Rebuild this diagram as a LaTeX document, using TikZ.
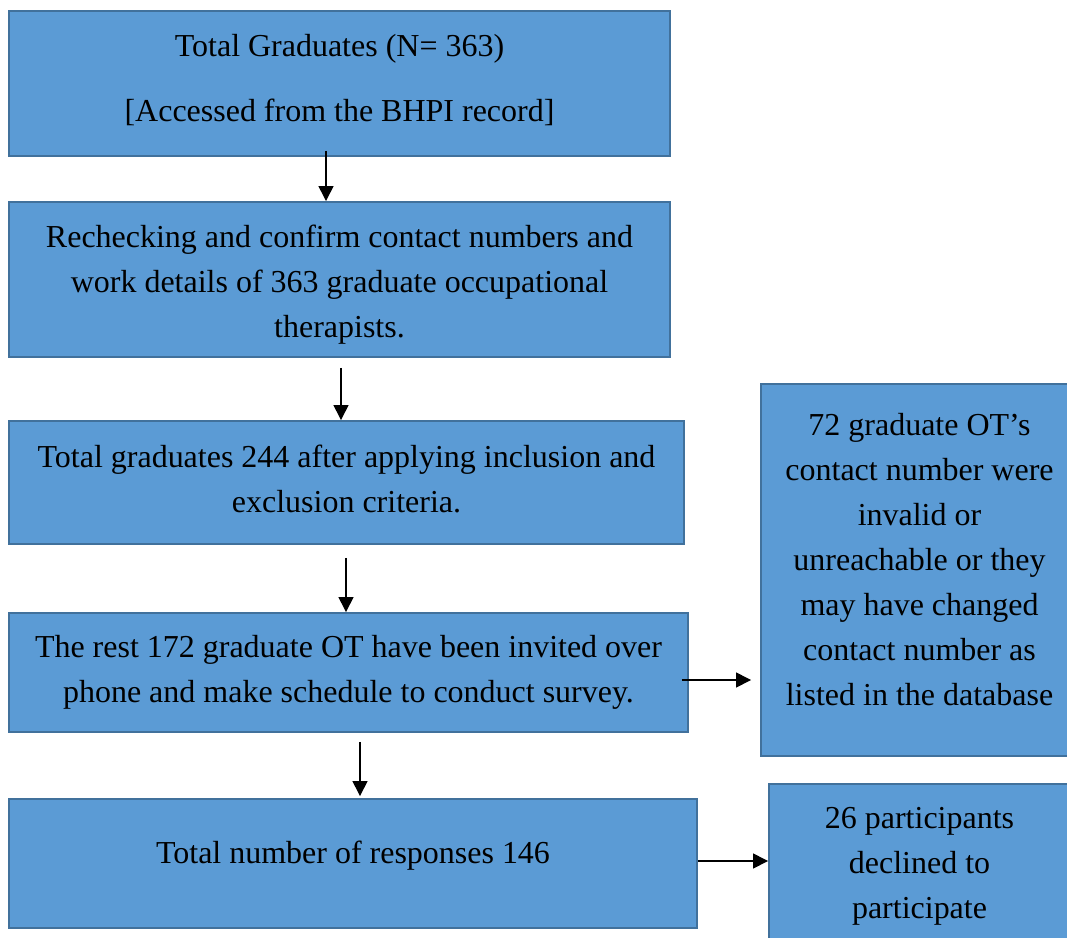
\documentclass[tikz,border=0pt]{standalone}
\usepackage{fontspec}
\setmainfont{Liberation Serif}
\usepackage{xcolor}
\usetikzlibrary{shapes,arrows.meta,calc,positioning}

\definecolor{boxfill}{HTML}{5B9BD5}
\definecolor{boxline}{HTML}{41719C}

\tikzset{
  flowbox/.style={draw=boxline, line width=1.1pt, fill=boxfill, inner sep=0pt},
  flowtext/.style={align=center, font=\fontsize{18.2}{25.6}\selectfont, inner sep=0pt},
  arr/.style={black, line width=0.85pt, -{Triangle[length=0.30cm,width=0.30cm]}}
}

\begin{document}
\begin{tikzpicture}
\useasboundingbox (0,0) rectangle (21.34,-18.74);
\clip (0,0) rectangle (21.34,-18.74);

% boxes
\node[flowbox, minimum width=13.22cm, minimum height=2.90cm] (total) at (6.79,-1.67) {};
\node[flowbox, minimum width=13.22cm, minimum height=3.10cm] (recheck) at (6.79,-5.59) {};
\node[flowbox, minimum width=13.50cm, minimum height=2.46cm] (incl) at (6.93,-9.65) {};
\node[flowbox, minimum width=13.58cm, minimum height=2.38cm] (invited) at (6.97,-13.45) {};
\node[flowbox, minimum width=13.76cm, minimum height=2.58cm] (resp) at (7.06,-17.27) {};
\node[flowbox, minimum width=6.34cm, minimum height=7.44cm] (invalid) at (18.39,-11.40) {};
\node[flowbox, minimum width=6.02cm, minimum height=3.12cm] (declined) at (18.39,-17.24) {};

% texts
\node[flowtext] (totaltxt) at ([yshift=0.06cm]total.center)
  {Total Graduates (N= 363)\\[11.4pt] [Accessed from the BHPI record]};
\node[flowtext] (rechecktxt) at ([yshift=-0.10cm]recheck.center)
  {Rechecking and confirm contact numbers and\\ work details of 363 graduate occupational\\ therapists.};
\node[flowtext] (incltxt) at ([yshift=0.08cm]incl.center)
  {Total graduates 244 after applying inclusion and\\ exclusion criteria.};
\node[flowtext] (invitedtxt) at (invited.center)
  {The rest 172 graduate OT have been invited over\\ phone and make schedule to conduct survey.};
\node[flowtext] (resptxt) at ([yshift=0.16cm]resp.center)
  {Total number of responses 146};
\node[flowtext] (invalidtxt) at ([yshift=0.21cm]invalid.center)
  {72 graduate OT's\\ contact number were\\ invalid or\\ unreachable or they\\ may have changed\\ contact number as\\ listed in the database};
\node[flowtext] (declinedtxt) at ([yshift=-0.09cm]declined.center)
  {26 participants\\ declined to\\ participate};

% arrows
\coordinate (a1) at ([xshift=-0.27cm,yshift=0.12cm]total.south);
\draw[arr] (a1) -- (a1 |- recheck.north);
\coordinate (a2) at ([xshift=0.03cm,yshift=-0.20cm]recheck.south);
\draw[arr] (a2) -- (a2 |- incl.north);
\coordinate (a3) at ([xshift=-0.01cm,yshift=-0.26cm]incl.south);
\draw[arr] (a3) -- (a3 |- invited.north);
\coordinate (a4) at ([xshift=0.23cm,yshift=-0.18cm]invited.south);
\draw[arr] (a4) -- ([yshift=0.04cm]a4 |- resp.north);

\coordinate (lost) at ([xshift=-0.14cm,yshift=-0.15cm]invited.east);
\draw[arr] (lost) -- ([xshift=-0.18cm]lost -| invalid.west);
\coordinate (refused) at ([yshift=0.05cm]resp.east);
\draw[arr] (refused) -- (refused -| declined.west);
\end{tikzpicture}
\end{document}
